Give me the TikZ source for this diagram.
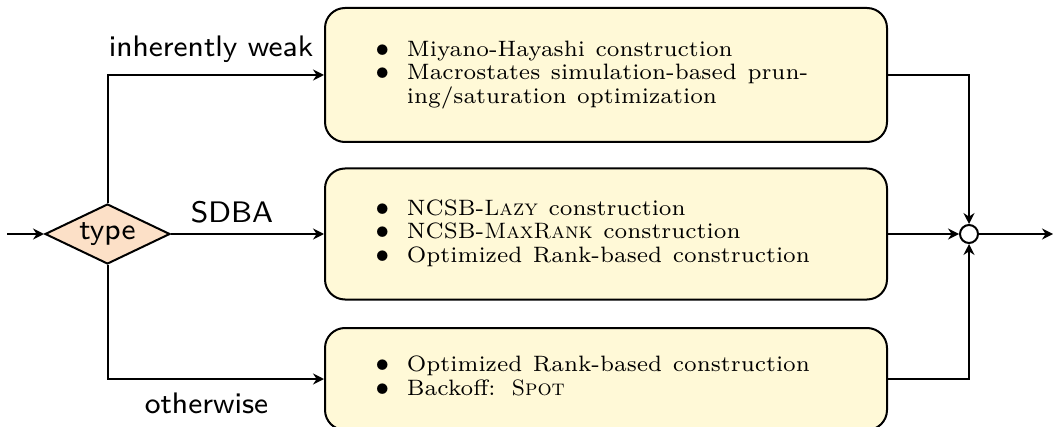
\documentclass[tikz,border=0pt]{standalone}
\usepackage{graphicx}
\usetikzlibrary{shapes.geometric,arrows.meta}
\definecolor{boxfill}{RGB}{255,249,215}
\definecolor{peach}{RGB}{252,224,199}
\newcommand{\sbx}[1]{\scalebox{2.12}{#1}}
\newcommand{\boxfont}{\fontsize{7}{7.4}\selectfont}
\newcommand{\bul}{{\fontsize{8}{7.4}\selectfont$\bullet$}}
\newcommand{\labfont}{\fontsize{7}{8.5}\selectfont\sffamily}
\newcommand{\itemtab}[1]{\scalebox{1.59}{\boxfont\begin{tabular}{@{}l@{\hspace{5.6pt}}l@{}}#1\end{tabular}}}
\tikzset{
  arr/.style={line width=1pt,-{Stealth[length=5.5pt,width=5.5pt,inset=1.8pt]}},
  optbox/.style={draw,line width=1pt,fill=boxfill,rounded corners=10pt,
    minimum width=281pt,text width=230.4pt,inner xsep=25.3pt,align=left},
  decision/.style={diamond,draw,line width=1pt,fill=peach,aspect=2.08,inner sep=0pt,
    minimum width=62.5pt,minimum height=30pt,font=\labfont},
  lab/.style={anchor=base,inner sep=0pt,font=\labfont},
  junction/.style={circle,draw,line width=1pt,fill=white,minimum size=9pt,inner sep=0pt}
}
\begin{document}
\begin{tikzpicture}[x=0.5pt,y=-0.5pt]
\useasboundingbox (0,0) rectangle (1054,427);
\node[decision] (d) at (107.5,234) {\sbx{type}};
\node[optbox,minimum height=67pt] (b1) at (606,75) {\itemtab{%
\bul & Miyano-Hayashi construction\\
\bul & Macrostates simulation-based prun-\\
 & ing/saturation optimization}};
\node[optbox,minimum height=65.5pt] (b2) at (606,234) {\itemtab{%
\bul & NCSB-\textsc{Lazy} construction\\
\bul & NCSB-\textsc{MaxRank} construction\\
\bul & Optimized Rank-based construction}};
\node[optbox,minimum height=51pt] (b3) at (606,379) {\itemtab{%
\bul & Optimized Rank-based construction\\
\bul & Backoff: \textsc{Spot}}};
\node[junction] (c) at (969,234) {};
\coordinate (in) at (7,234);
\coordinate (out) at (1053,234);
\node[lab] (l1) at (211,57) {\sbx{inherently weak}};
\node[lab] (l2) at (232,223) {\sbx{SDBA}};
\node[lab] (l3) at (206.5,413) {\sbx{otherwise}};
\draw[arr] (in) -- (d.west);
\draw[arr] (d.north) |- (b1.west);
\draw[arr] (d.east) -- (b2.west);
\draw[arr] (d.south) |- (b3.west);
\draw[arr] (b1.east) -| (c.north);
\draw[arr] (b2.east) -- (c.west);
\draw[arr] (b3.east) -| (c.south);
\draw[arr] (c.east) -- (out);
\end{tikzpicture}
\end{document}
